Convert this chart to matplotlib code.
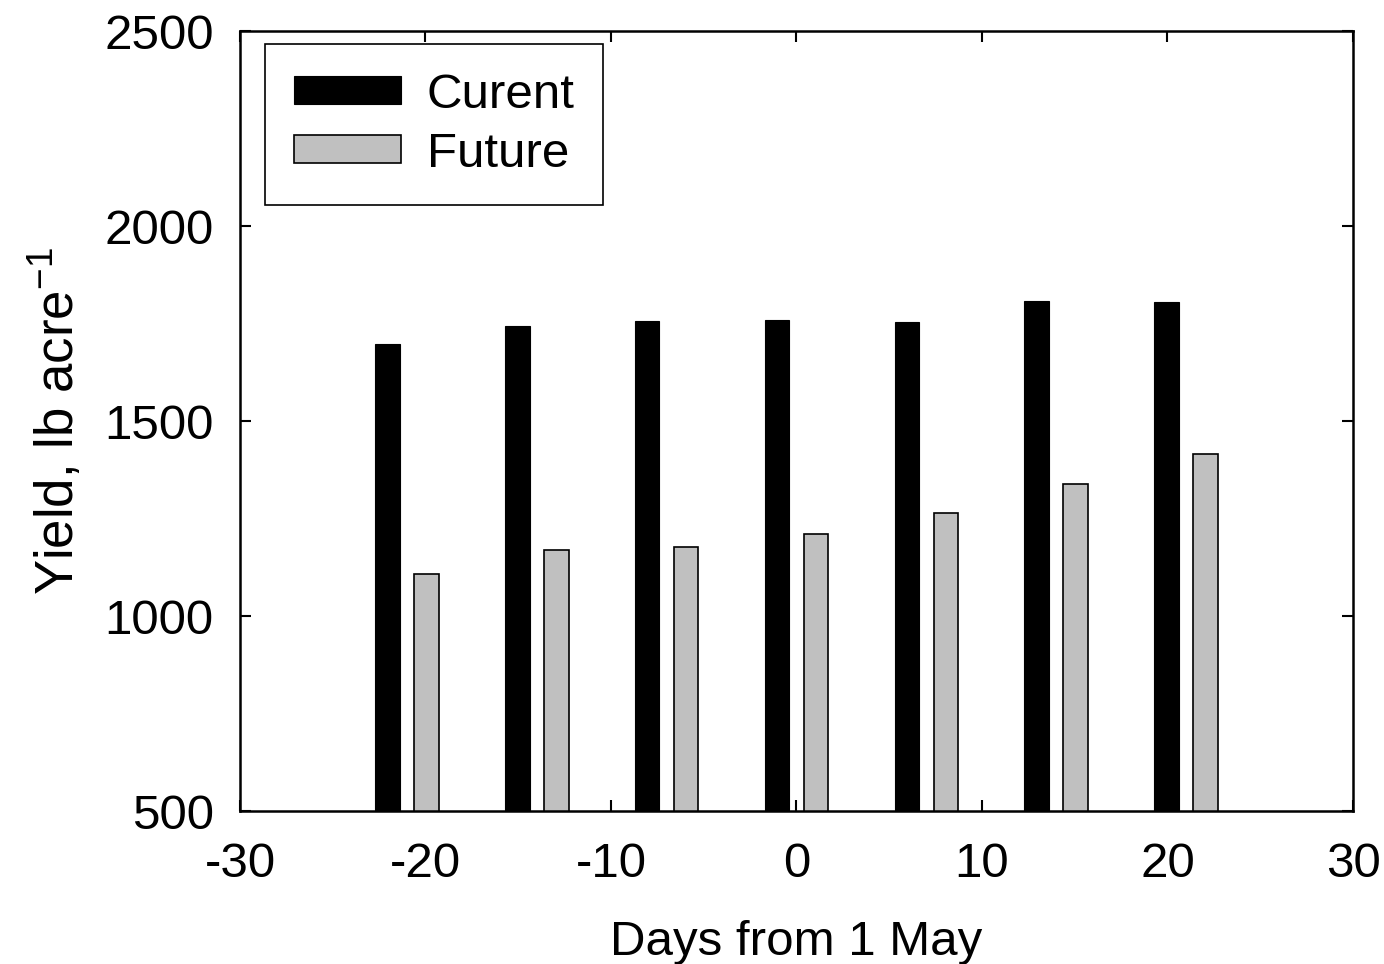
import matplotlib.pyplot as plt
import numpy as np

plt.rcParams['font.family'] = ['Liberation Sans', 'DejaVu Sans']
plt.rcParams['axes.unicode_minus'] = False

# planting date offset (days from 1 May) and yields
days = [-21, -14, -7, 0, 7, 14, 21]
current = [1697, 1744, 1757, 1760, 1753, 1807, 1805]
future = [1108, 1169, 1178, 1210, 1263, 1338, 1415]

fig = plt.figure(figsize=(13.84, 9.64), dpi=100)
ax = fig.add_axes([0.1734, 0.1587, 0.8042, 0.8091])

x = np.array(days)
ax.bar(x - 1.05, current, width=1.32, bottom=0, color='black', edgecolor='black',
       linewidth=0.8, label='Curent')
ax.bar(x + 1.05, future, width=1.32, bottom=0, color='#c0c0c0', edgecolor='black',
       linewidth=1.2, label='Future')

ax.set_xlim(-30, 30)
ax.set_ylim(500, 2500)
ax.set_xticks(np.arange(-30, 31, 10))
ax.set_yticks(np.arange(500, 2501, 500))
ax.set_axisbelow(True)
ax.tick_params(direction='in', length=8, width=1.5, top=True, right=True,
               labelsize=35.5)
ax.tick_params(axis='x', pad=22)
ax.tick_params(axis='y', pad=19)
for s in ax.spines.values():
    s.set_linewidth(1.8)

ax.set_xlabel('Days from 1 May', fontsize=35.5, labelpad=24)
ax.set_ylabel('Yield, lb acre$^{\\mathregular{-1}}$', fontsize=38, labelpad=14)

leg = ax.legend(loc='upper left', bbox_to_anchor=(0.0225, 0.983), fontsize=35.5,
                frameon=True, fancybox=False, edgecolor='black', framealpha=1,
                handlelength=2.17, handleheight=0.5, handletextpad=0.53,
                borderpad=0.58, labelspacing=0.28, borderaxespad=0)
leg.get_frame().set_linewidth(1.2)

fig.savefig('out.png', dpi=100)
